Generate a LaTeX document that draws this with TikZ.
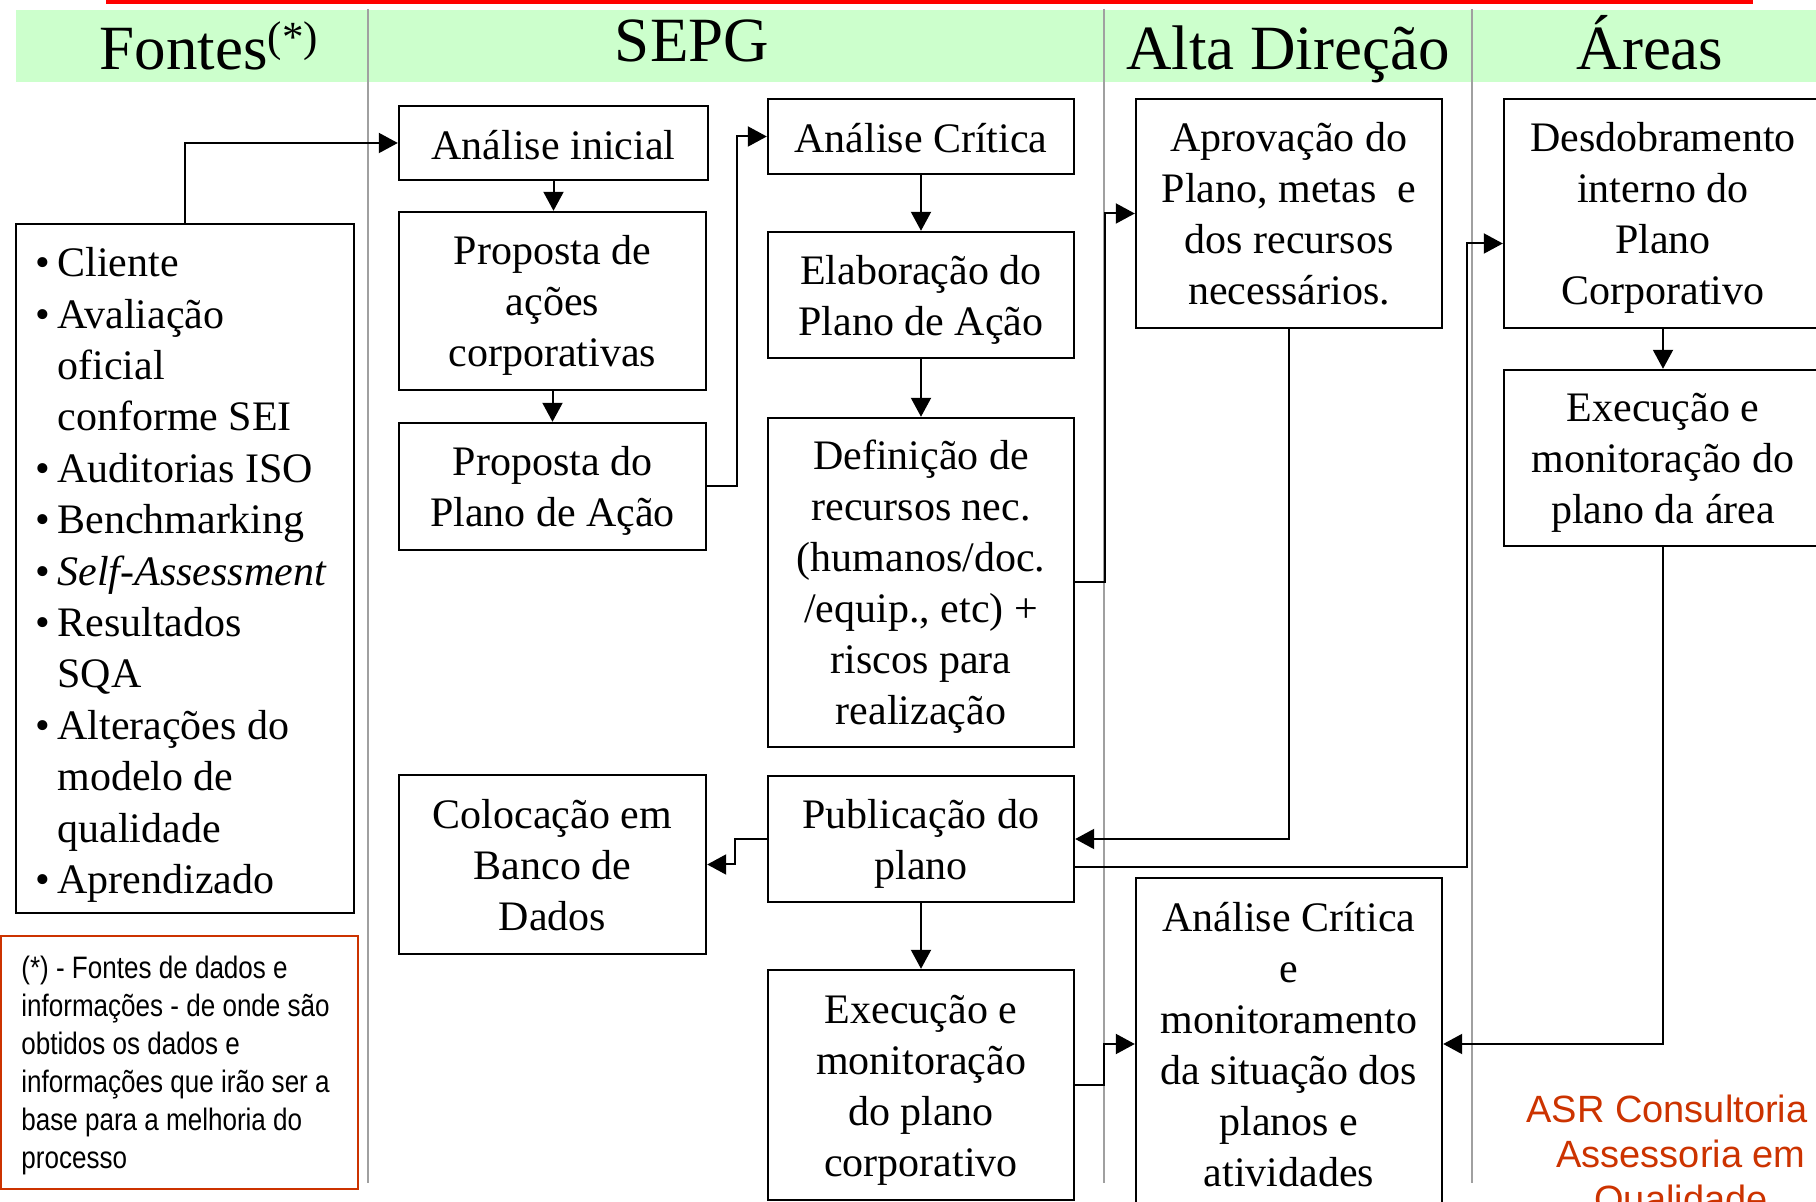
\documentclass[tikz,border=0pt]{standalone}
\usepackage{fontspec}
\setmainfont{Liberation Serif}
\newfontfamily\notefont[FakeStretch=0.84]{Liberation Sans}
\newfontfamily\asrfont{Liberation Sans}
\usetikzlibrary{arrows.meta}
\definecolor{hdrgreen}{RGB}{204,255,204}
\definecolor{asrred}{RGB}{204,51,0}
\definecolor{sepgray}{RGB}{160,160,160}
\newcommand\boxfont{\fontsize{21}{25.5}\selectfont}
\newcommand\hdrfont{\fontsize{31.5}{36}\selectfont}
\newcommand\itembul{\llap{\textbullet\hspace{3.5pt}}}
\newcommand\sttop{\rule{0pt}{20pt}}
\newcommand\stbot{\rule[-5pt]{0pt}{5pt}}
\newcommand\stone{\rule[-3.5pt]{0pt}{23.5pt}}
\begin{document}
\begin{tikzpicture}[x=0.5pt,y=-0.5pt,
  box/.style={draw,line width=1.2pt,fill=white,inner sep=0pt,align=center,font=\boxfont},
  conn/.style={line width=1pt,-{Triangle[length=9.5pt,width=10pt]}},
  sepline/.style={draw=sepgray,line width=1pt},
  hdr/.style={anchor=base,inner sep=0pt,font=\hdrfont}]
\useasboundingbox (0,0) rectangle (1816,1202);
\clip (0,0) rectangle (1816,1202);
% top bar and header band
\fill[red] (106,0) rectangle (1753,4);
\fill[hdrgreen] (16,10) rectangle (1816,82);
\draw[sepline] (368,9) -- (368,1183);
\draw[sepline] (1104,9) -- (1104,1183);
\draw[sepline] (1472,9) -- (1472,1183);
% headers
\node[hdr] (hFontes) at (209,70) {Fontes\raisebox{9pt}{\fontsize{21.5}{21.5}\selectfont(*)}};
\node[hdr] (hSEPG) at (692,62) {SEPG};
\node[hdr] (hAlta) at (1288,70) {Alta Direção};
\node[hdr] (hAreas) at (1650,70) {Áreas};
% Fontes box
\node[draw,line width=1.2pt,inner sep=0pt,minimum width=169pt,minimum height=344.5pt] (fo) at (185,568.5) {};
\node[anchor=west,inner sep=0pt,align=left,font={\fontsize{21}{25.7}\selectfont}] (fot) at (57,575) {%
\itembul Cliente\\
\itembul Avaliação\\
oficial\\
conforme SEI\\
\itembul Auditorias ISO\\
\itembul Benchmarking\\
\itembul \textit{Self-Assessment}\\
\itembul Resultados\\
SQA\\
\itembul Alterações do\\
modelo de\\
qualidade\\
\itembul Aprendizado};
% note box
\node[draw=asrred,line width=1pt,inner sep=0pt,minimum width=178.5pt,minimum height=126.5pt] (nb) at (179.5,1062.5) {};
\node[anchor=west,inner sep=0pt,align=left,font={\notefont\fontsize{15.5}{19}\selectfont}] (nbt) at (21,1065.5) {%
(*) - Fontes de dados e\\
informações - de onde são\\
obtidos os dados e\\
informações que irão ser a\\
base para a melhoria do\\
processo};
% SEPG column
\node[box,minimum width=154.5pt,minimum height=37pt] (ai) at (553.5,143) {\stone Análise inicial};
\node[box,minimum width=153.5pt,minimum height=89pt] (pa) at (552.5,301) {\sttop Proposta de\\ações\\corporativas\stbot};
\node[box,minimum width=153.5pt,minimum height=63.5pt] (pp) at (552.5,486.5) {\sttop Proposta do\\Plano de Ação\stbot};
\node[box,minimum width=153.5pt,minimum height=89.5pt] (cb) at (552.5,864.5) {\sttop Colocação em\\Banco de\\Dados\stbot};
\node[box,minimum width=153pt,minimum height=37.5pt] (ac) at (921,136.5) {\stone Análise Crítica};
\node[box,minimum width=153pt,minimum height=63pt] (el) at (921,295) {\sttop Elaboração do\\Plano de Ação\stbot};
\node[box,minimum width=153pt,minimum height=164.5pt] (de) at (921,582.5) {\sttop Definição de\\recursos nec.\\(humanos/doc.\\/equip., etc) +\\riscos para\\realização\stbot};
\node[box,minimum width=153pt,minimum height=63pt] (pu) at (921,839) {\sttop Publicação do\\plano\stbot};
\node[box,minimum width=153pt,minimum height=115pt] (ex) at (921,1085) {\sttop Execução e\\monitoração\\do plano\\corporativo\stbot};
% Alta Direcao column
\node[box,minimum width=153pt,minimum height=114.5pt] (ap) at (1289,213.5) {\sttop Aprovação do\\Plano, metas\ \ e\\dos recursos\\necessários.\stbot};
\node[box,minimum width=153pt,minimum height=166pt] (am) at (1289,1044) {\sttop Análise Crítica\\e\\monitoramento\\da situação dos\\planos e\\atividades\stbot};
% Areas column
\node[box,minimum width=159pt,minimum height=114.5pt] (dd) at (1663,213.5) {\sttop Desdobramento\\interno do\\Plano\\Corporativo\stbot};
\node[box,minimum width=159pt,minimum height=88pt] (ea) at (1663,458) {\sttop Execução e\\monitoração do\\plano da área\stbot};
% ASR
\node[anchor=north,inner sep=0pt,align=center,text=asrred,font={\asrfont\fontsize{19}{22.5}\selectfont}] (asr) at (1681,1095) {ASR Consultoria\hspace*{14pt}\\Assessoria em\\Qualidade};
% connectors
\draw[conn] (fo.north) |- (ai.west);
\draw[conn] (ai.south) -- (ai.south |- pa.north);
\draw[conn] (pa.south) -- (pa.south |- pp.north);
\draw[conn] (pp.east) -- ++(30,0) |- (ac.west);
\draw[conn] (ac.south) -- (el.north);
\draw[conn] (el.south) -- (de.north);
\draw[conn] (de.east) -- ++(30,0) |- (ap.west);
\draw[conn] (ap.south) |- (pu.east);
\draw[conn] ([yshift=-14pt]pu.east) -- ++(392,0) |- ([yshift=-15pt]dd.west);
\draw[conn] (pu.west) -- ++(-32,0) |- (cb.east);
\draw[conn] (pu.south) -- (ex.north);
\draw[conn] (ex.east) -- ++(29,0) |- (am.west);
\draw[conn] (dd.south) -- (ea.north);
\draw[conn] (ea.south) |- (am.east);
\end{tikzpicture}
\end{document}
